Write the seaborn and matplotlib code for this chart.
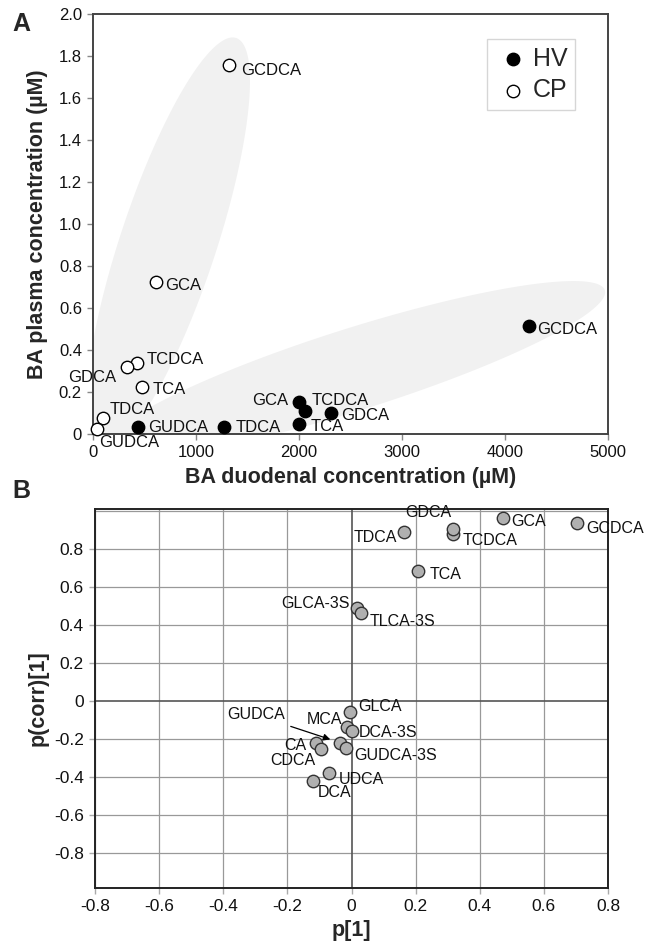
import numpy as np
import pandas as pd
import matplotlib
matplotlib.use("Agg")
import matplotlib.pyplot as plt
from matplotlib.patches import Polygon
import seaborn as sns

# ---------------- data ----------------
# Panel A
hv_names = ["GUDCA", "TDCA", "GCA", "TCDCA", "TCA", "GDCA", "GCDCA"]
hv_duod = [435, 1270, 2000, 2060, 2000, 2310, 4230]
hv_plasma = [0.033, 0.033, 0.152, 0.110, 0.048, 0.100, 0.514]

cp_names = ["GCDCA", "GCA", "TCDCA", "GDCA", "TCA", "TDCA", "GUDCA"]
cp_duod = [1325, 610, 425, 330, 475, 97, 40]
cp_plasma = [1.757, 0.724, 0.338, 0.320, 0.225, 0.076, 0.024]

a_xticks = [0, 1000, 2000, 3000, 4000, 5000]
a_yticks = [0, 0.2, 0.4, 0.6, 0.8, 1.0, 1.2, 1.4, 1.6, 1.8, 2.0]

# Panel B
b_names = ["GCDCA", "GCA", "TCDCA", "GDCA", "TDCA", "TCA", "GLCA-3S", "TLCA-3S",
           "GLCA", "MCA", "DCA-3S", "GUDCA", "GUDCA-3S", "CA", "CDCA", "UDCA", "DCA"]
b_p1 = [0.702, 0.472, 0.318, 0.318, 0.165, 0.206, 0.016, 0.029,
        -0.005, -0.015, 0.000, -0.036, -0.018, -0.112, -0.095, -0.069, -0.121]
b_pcorr = [0.935, 0.961, 0.877, 0.905, 0.891, 0.686, 0.488, 0.462,
           -0.060, -0.138, -0.156, -0.223, -0.246, -0.223, -0.253, -0.381, -0.420]
b_ticks = [-0.8, -0.6, -0.4, -0.2, 0, 0.2, 0.4, 0.6, 0.8]

# ---------------- label placement (pixel offsets, alignment) ----------------
hv_off = {"GUDCA": (10, 0, "left"), "TDCA": (12, 0, "left"), "GCA": (-11, 2, "right"),
          "TCDCA": (6, 10, "left"), "TCA": (12, -3, "left"), "GDCA": (10, -2, "left"),
          "GCDCA": (8, -3, "left")}
cp_off = {"GCDCA": (12, -5, "left"), "GCA": (9, -4, "left"), "TCDCA": (10, 4, "left"),
          "GDCA": (-11, -11, "right"), "TCA": (11, -3, "left"), "TDCA": (7, 9, "left"),
          "GUDCA": (2, -14, "left")}
b_off = {"GCDCA": (10, -5, "left"), "GCA": (8, -3, "left"), "TCDCA": (9, -6, "left"),
         "GDCA": (-25, 16, "center"), "TDCA": (-7, -6, "right"), "TCA": (12, -4, "left"),
         "GLCA-3S": (-7, 5, "right"), "TLCA-3S": (9, -8, "left"), "GLCA": (8, 6, "left"),
         "MCA": (-4, 8, "right"), "DCA-3S": (7, -2, "left"), "GUDCA-3S": (9, -8, "left"),
         "CA": (-9, -2, "right"), "CDCA": (-6, -12, "right"), "UDCA": (9, -6, "left"),
         "DCA": (5, -12, "left")}

sns.set_theme(style="white")
plt.rcParams["font.family"] = ["Liberation Sans", "DejaVu Sans"]
plt.rcParams["axes.unicode_minus"] = False

W, H = 648, 949
fig = plt.figure(figsize=(W / 100, H / 100), dpi=100)

def fig_axes(l, t, r, b):
    return fig.add_axes([l / W, 1 - b / H, (r - l) / W, (b - t) / H])

# ================= Panel A =================
axA = fig_axes(93, 14, 608, 434)
axA.set_xlim(0, 5000)
axA.set_ylim(0, 2.0)

# shaded group ellipses (drawn in axes-pixel space)
AW, AH = 608 - 93, 434 - 14
def ellipse(cx, cy, a, b, ang):
    t = np.linspace(0, 2 * np.pi, 200)
    th = np.deg2rad(ang)
    x = cx + a * np.cos(t) * np.cos(th) - b * np.sin(t) * np.sin(th)
    y = cy + a * np.cos(t) * np.sin(th) + b * np.sin(t) * np.cos(th)
    return np.column_stack([x / AW, y / AH])

for pts in (ellipse(75, 190, 217, 48, 71.7), ellipse(262, 65, 262, 41, 17.5)):
    axA.add_patch(Polygon(pts, closed=True, transform=axA.transAxes,
                          facecolor="#f1f1f1", edgecolor="none", zorder=0))

dfHV = pd.DataFrame({"name": hv_names, "x": hv_duod, "y": hv_plasma})
dfCP = pd.DataFrame({"name": cp_names, "x": cp_duod, "y": cp_plasma})
sns.scatterplot(data=dfHV, x="x", y="y", ax=axA, color="black", edgecolor="black",
                s=80, linewidth=1, label="HV", zorder=3, clip_on=False)
sns.scatterplot(data=dfCP, x="x", y="y", ax=axA, color="white", edgecolor="black",
                s=80, linewidth=1, label="CP", zorder=3, clip_on=False)

for df, off in ((dfHV, hv_off), (dfCP, cp_off)):
    for _, r in df.iterrows():
        dx, dy, ha = off[r["name"]]
        axA.annotate(r["name"], (r["x"], r["y"]), xytext=(dx, dy),
                     textcoords="offset pixels", ha=ha, va="center",
                     fontsize=12, color="#111111", zorder=4)

axA.set_xticks(a_xticks)
axA.set_xticklabels([str(v) for v in a_xticks])
axA.set_yticks(a_yticks)
axA.set_yticklabels(["0" if v == 0 else f"{v:.1f}" for v in a_yticks])
axA.tick_params(axis="both", labelsize=12, length=4, width=1, color="#888888",
                direction="out", pad=4, labelcolor="#111111", left=True, bottom=True)
for s in axA.spines.values():
    s.set_color("#444444")
    s.set_linewidth(1.4)
axA.set_xlabel("BA duodenal concentration (µM)", fontsize=15.5, fontweight="bold",
               labelpad=5)
axA.set_ylabel("BA plasma concentration (µM)", fontsize=15.5, fontweight="bold",
               labelpad=8)
leg = axA.legend(loc="upper left", bbox_to_anchor=((487 - 93) / AW, 0.94),
                 borderaxespad=0, fontsize=18, frameon=True, fancybox=False,
                 edgecolor="#cccccc", handletextpad=0.05, labelspacing=0.3,
                 borderpad=0.3, markerscale=1.0, handlelength=1.48)
leg.get_frame().set_linewidth(1)
fig.text(12 / W, 1 - 24 / H, "A", fontsize=18, fontweight="bold", va="center")

# ================= Panel B =================
axB = fig_axes(95, 509, 608, 888)
axB.set_xlim(-0.8, 0.8)
axB.set_ylim(-0.985, 1.01)
grid_vals = [-1.0, -0.8, -0.6, -0.4, -0.2, 0.2, 0.4, 0.6, 0.8, 1.0]
for v in grid_vals:
    axB.axhline(v, color="#999999", lw=0.9, zorder=0)
    if abs(v) < 0.9:
        axB.axvline(v, color="#999999", lw=0.9, zorder=0)
axB.axhline(0, color="#555555", lw=1.2, zorder=0)
axB.axvline(0, color="#555555", lw=1.2, zorder=0)

dfB = pd.DataFrame({"name": b_names, "p1": b_p1, "pcorr": b_pcorr})
sns.scatterplot(data=dfB, x="p1", y="pcorr", ax=axB, color="#b0b0b0",
                edgecolor="#333333", s=80, linewidth=1, zorder=3, legend=False,
                clip_on=False)
for _, r in dfB.iterrows():
    if r["name"] == "GUDCA":
        continue
    dx, dy, ha = b_off[r["name"]]
    axB.annotate(r["name"], (r["p1"], r["pcorr"]), xytext=(dx, dy),
                 textcoords="offset pixels", ha=ha, va="center",
                 fontsize=11.5, color="#111111", zorder=4)
g = dfB[dfB["name"] == "GUDCA"].iloc[0]
axB.annotate("GUDCA", xy=(g["p1"] - 0.03, g["pcorr"] + 0.02), xytext=(-0.298, -0.074),
             textcoords="data", ha="center", va="center", fontsize=11.5,
             color="#111111", zorder=4,
             arrowprops=dict(arrowstyle="-|>", color="black", lw=0.9,
                             mutation_scale=10, shrinkA=2, shrinkB=0))

axB.set_xticks(b_ticks)
axB.set_xticklabels(["0" if v == 0 else f"{v:.1f}" for v in b_ticks])
axB.set_yticks(b_ticks)
axB.set_yticklabels(["0" if v == 0 else f"{v:.1f}" for v in b_ticks])
axB.tick_params(axis="both", labelsize=12.5, length=4, width=1, color="#aaaaaa",
                direction="out", pad=4, labelcolor="#111111", left=True, bottom=True)
for s in axB.spines.values():
    s.set_color("#222222")
    s.set_linewidth(1.4)
axB.set_xlabel("p[1]", fontsize=15.5, fontweight="bold", labelpad=4)
axB.set_ylabel("p(corr)[1]", fontsize=15.5, fontweight="bold", labelpad=4)
fig.text(12 / W, 1 - 491 / H, "B", fontsize=18, fontweight="bold", va="center")

fig.savefig("out.png", dpi=100, facecolor="white")
